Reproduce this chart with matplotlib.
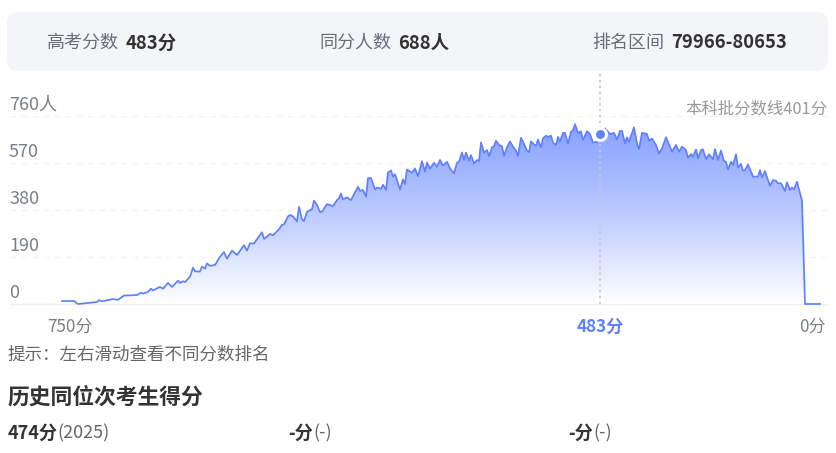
import numpy as np
import matplotlib
matplotlib.use('Agg')
import matplotlib.pyplot as plt
from matplotlib.patches import FancyBboxPatch, Polygon
from matplotlib.colors import LinearSegmentedColormap
from matplotlib.transforms import ScaledTranslation

plt.rcParams['font.family'] = ['Noto Sans CJK SC', 'DejaVu Sans']

# 滑动条上的位置(0=750分, 758=0分), 分数轴不是等距的
slots = [0, 12, 16, 35, 37, 40, 51, 56, 62, 75, 79, 81, 86, 89, 91, 98, 101, 106, 110, 116, 118, 121, 123,
         128, 131, 133, 138, 140, 143, 145, 148, 153, 158, 162, 165, 170, 175, 182, 185, 188, 192, 200, 202,
         208, 211, 217, 220, 222, 226, 228, 231, 235, 237, 240, 242, 245, 250, 252, 255, 258, 260, 265, 271,
         275, 277, 279, 281, 285, 289, 296, 298, 301, 304, 306, 309, 313, 315, 319, 321, 324, 326, 329, 331,
         333, 338, 341, 343, 345, 350, 353, 356, 360, 363, 365, 368, 372, 375, 378, 381, 385, 388, 392, 395,
         397, 400, 402, 404, 407, 409, 412, 415, 417, 419, 422, 425, 427, 430, 432, 434, 437, 440, 442, 445,
         448, 451, 454, 456, 459, 461, 465, 467, 469, 472, 474, 476, 479, 481, 484, 486, 489, 491, 494, 496,
         498, 501, 503, 506, 509, 511, 513, 516, 519, 521, 525, 528, 531, 535, 538, 543, 548, 552, 555, 558,
         560, 563, 565, 567, 572, 575, 577, 580, 585, 587, 590, 594, 597, 600, 604, 610, 614, 617, 620, 624,
         626, 629, 631, 634, 636, 639, 641, 644, 647, 651, 653, 656, 659, 662, 664, 666, 669, 671, 674, 676,
         679, 681, 683, 686, 691, 696, 698, 700, 703, 708, 711, 714, 716, 719, 723, 725, 728, 730, 732, 735,
         739, 740, 743, 758]
counts = [12, 12, 0, 8, 16, 11, 20, 17, 34, 36, 46, 42, 49, 62, 55, 69, 62, 85, 69, 94, 85, 92, 89,
          110, 147, 132, 131, 151, 143, 164, 154, 158, 191, 210, 183, 216, 198, 238, 216, 245, 245, 290, 263,
          283, 278, 302, 320, 322, 354, 360, 354, 334, 393, 342, 335, 373, 383, 418, 400, 372, 373, 404, 396,
          420, 427, 447, 423, 431, 420, 474, 457, 461, 434, 509, 509, 463, 471, 466, 482, 461, 532, 540, 515,
          525, 463, 504, 485, 544, 531, 548, 517, 577, 535, 572, 547, 571, 555, 582, 560, 575, 548, 528, 571,
          575, 613, 582, 612, 579, 602, 568, 582, 578, 653, 612, 622, 598, 633, 638, 660, 643, 638, 599, 633,
          657, 636, 620, 598, 672, 656, 620, 614, 657, 645, 640, 665, 633, 670, 680, 676, 680, 652, 643, 676,
          656, 692, 692, 649, 696, 703, 727, 692, 698, 663, 699, 687, 653, 655, 688, 710, 687, 692, 665, 700,
          700, 649, 674, 656, 714, 649, 626, 692, 687, 660, 669, 643, 609, 629, 674, 616, 643, 616, 636, 622,
          591, 606, 595, 625, 589, 622, 625, 586, 605, 585, 626, 582, 620, 578, 575, 544, 575, 562, 605, 552,
          566, 539, 541, 564, 515, 515, 541, 512, 537, 478, 501, 498, 488, 488, 457, 492, 461, 471, 463, 494,
          434, 418, 0, 0]
y_ticks = [0, 190, 380, 570, 760]
y_labels = ['0', '190', '380', '570', '760人']
x_ticks = [0, 538, 758]
x_labels = ['750分', '483分', '0分']
current_slot = 538
current_count = 688

W, H = 837, 453
BLUE = '#5f80ff'
fig = plt.figure(figsize=(W / 100, H / 100), dpi=100)

# 背景层用像素坐标,放卡片和文字
bg = fig.add_axes([0, 0, 1, 1], zorder=0)
bg.set_xlim(0, W)
bg.set_ylim(H, 0)
bg.axis('off')
bg.add_patch(FancyBboxPatch((19, 24), 797, 35, boxstyle='round,pad=12,rounding_size=12',
                            fc='#f4f5f9', ec='none', lw=0))

label_c = '#6a6e7a'
value_c = '#333333'
for x1, lab, x2, val in [(47, '高考分数', 126, '483分'), (319.5, '同分人数', 398.5, '688人'),
                         (592.5, '排名区间', 671.5, '79966-80653')]:
    bg.text(x1, 43, lab, fontsize=13, color=label_c, va='center')
    bg.text(x2, 43, val, fontsize=13.3, color=value_c, va='center', fontweight='bold')

bg.text(827.5, 109, '本科批分数线401分', fontsize=11.8, color='#999999', va='center', ha='right')
bg.text(8, 355, '提示：左右滑动查看不同分数排名', fontsize=12.6, color='#666666', va='center')
bg.text(7.5, 398.5, '历史同位次考生得分', fontsize=15.7, color='#333333', va='center', fontweight='bold')
for x1, val, x2, year in [(7.5, '474分', 57, '(2025)'), (288, '-分', 313.5, '(-)'), (568, '-分', 593.5, '(-)')]:
    bg.text(x1, 433, val, fontsize=13, color='#333333', va='center', fontweight='bold')
    bg.text(x2, 433, year, fontsize=13, color='#666666', va='center')

# 折线图
ax = fig.add_axes([10 / W, 1 - 304 / H, 817 / W, 188 / H], zorder=1)
ax.set_frame_on(False)
ax.set_axisbelow(True)

cmap = LinearSegmentedColormap.from_list('fade', ['#ffffff', '#bccbff', '#86a0ff'])
grad = np.linspace(1, 0, 256).reshape(-1, 1)
im = ax.imshow(grad, extent=[-52, 765, 0, 727], aspect='auto', cmap=cmap, zorder=1)
poly = Polygon(list(zip(slots, counts)) + [(758, 0), (0, 0)], closed=True, transform=ax.transData, fc='none', ec='none')
ax.add_patch(poly)
im.set_clip_path(poly)

ax.plot(slots, counts, color=BLUE, lw=1.25, zorder=3, clip_on=False, solid_joinstyle='round')
ax.axvline(current_slot, ymin=0, ymax=232 / 188, color='#c6c8d2', lw=1.2, ls=(0, (1.5, 2)), zorder=4, clip_on=False)
ax.plot([current_slot], [current_count], 'o', ms=8.6, mfc=BLUE, mec='white', mew=2.2, zorder=5)

ax.set_xlim(-52, 765)
ax.set_ylim(0, 760)
ax.set_yticks(y_ticks, y_labels)
ax.set_xticks(x_ticks, x_labels)
ax.grid(axis='y', color='#f3f3f5', lw=1, ls=(0, (4, 4)))
ax.axhline(0, color='#eeeeee', lw=1, zorder=0, clip_on=False)
ax.tick_params(axis='y', length=0, pad=0.7, labelsize=13, labelcolor='#7b7f8a')
ax.tick_params(axis='x', length=0, pad=10, labelsize=12.3, labelcolor='#7b7f8a')
for t in ax.get_yticklabels():
    t.set_ha('left')
    t.set_va('bottom')
    t.set_transform(t.get_transform() + ScaledTranslation(0, 1.5 / 72, fig.dpi_scale_trans))
tl = ax.get_xticklabels()
tl[0].set_transform(tl[0].get_transform() + ScaledTranslation(8 / 100, 0, fig.dpi_scale_trans))
tl[1].set_color(BLUE)
tl[1].set_fontweight('bold')
tl[2].set_ha('right')
tl[2].set_transform(tl[2].get_transform() + ScaledTranslation(6 / 100, 0, fig.dpi_scale_trans))

plt.savefig('out.png', dpi=100)
